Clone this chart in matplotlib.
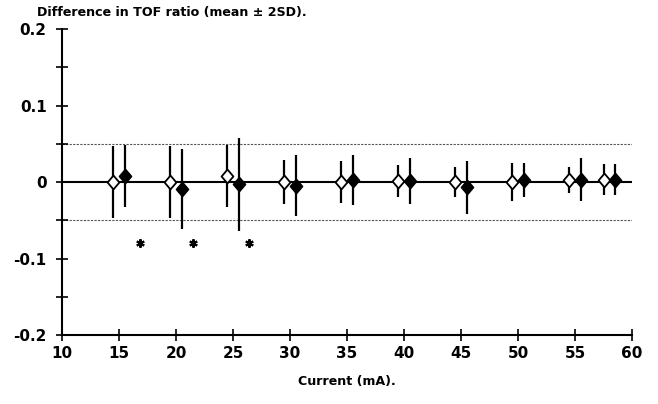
import matplotlib
matplotlib.use("Agg")
import matplotlib.pyplot as plt
from matplotlib.ticker import MultipleLocator

plt.rcParams['font.family'] = ['DejaVu Sans']
plt.rcParams['font.weight'] = 'bold'

# open diamonds
open_x = [14.5, 19.5, 24.5, 29.5, 34.5, 39.5, 44.5, 49.5, 54.5, 57.5]
open_mean = [0.0, 0.0, 0.008, 0.0, 0.0, 0.001, 0.0, 0.0, 0.003, 0.003]
open_err = [0.047, 0.047, 0.041, 0.029, 0.027, 0.021, 0.020, 0.025, 0.017, 0.020]
# filled diamonds
filled_x = [15.5, 20.5, 25.5, 30.5, 35.5, 40.5, 45.5, 50.5, 55.5, 58.5]
filled_mean = [0.008, -0.009, -0.003, -0.005, 0.003, 0.001, -0.007, 0.003, 0.003, 0.003]
filled_err = [0.041, 0.052, 0.061, 0.040, 0.033, 0.030, 0.035, 0.022, 0.028, 0.020]
# significance asterisks
star_x = [16.8, 21.5, 26.4]
star_y = [-0.08, -0.08, -0.08]

limit = 0.05
x_ticks = [10, 15, 20, 25, 30, 35, 40, 45, 50, 55, 60]
y_ticks = [-0.2, -0.1, 0, 0.1, 0.2]
y_labels = ['-0.2', '-0.1', '0', '0.1', '0.2']

fig = plt.figure(figsize=(6.58, 4.04), dpi=100)
ax = fig.add_axes([0.0942, 0.1708, 0.8663, 0.7572])

ax.axhline(0, color='black', lw=1.5, zorder=1)
for v in (limit, -limit):
    ax.axhline(v, color='#555555', lw=0.8, ls=(0, (2, 1.2)), zorder=1)

diamond = [(0, 1), (0.85, 0), (0, -1), (-0.85, 0), (0, 1)]
ax.errorbar(open_x, open_mean, yerr=open_err, fmt='none', ecolor='black',
            elinewidth=1.6, capsize=0, zorder=2)
ax.errorbar(filled_x, filled_mean, yerr=filled_err, fmt='none', ecolor='black',
            elinewidth=1.6, capsize=0, zorder=2)
ax.plot(open_x, open_mean, ls='none', marker=diamond, ms=10, mfc='white',
        mec='black', mew=1.3, zorder=3)
ax.plot(filled_x, filled_mean, ls='none', marker=diamond, ms=10, mfc='black',
        mec='black', mew=1.3, zorder=3)
ax.plot(star_x, star_y, ls='none', marker=(6, 2, 0), ms=6, mec='black', mew=1.5, zorder=3)

ax.set_xlim(10, 60)
ax.set_ylim(-0.2, 0.2)
ax.set_xticks(x_ticks)
ax.set_yticks(y_ticks)
ax.set_yticklabels(y_labels)
ax.yaxis.set_minor_locator(MultipleLocator(0.05))
for s in ('top', 'right'):
    ax.spines[s].set_visible(False)
for s in ('left', 'bottom'):
    ax.spines[s].set_linewidth(1.5)
ax.tick_params(axis='both', which='both', direction='inout', width=1.2, length=8,
               labelsize=11)
ax.tick_params(axis='y', pad=7)
ax.tick_params(axis='x', pad=4)
for lab in ax.get_xticklabels() + ax.get_yticklabels():
    lab.set_fontweight('bold')

ax.set_xlabel('Current (mA).', fontsize=9.1, fontweight='bold', labelpad=10)
fig.text(0.056, 0.968, 'Difference in TOF ratio (mean \u00b1 2SD).', fontsize=9.1,
         fontweight='bold', va='center', ha='left')

fig.savefig('out.png', dpi=100)
